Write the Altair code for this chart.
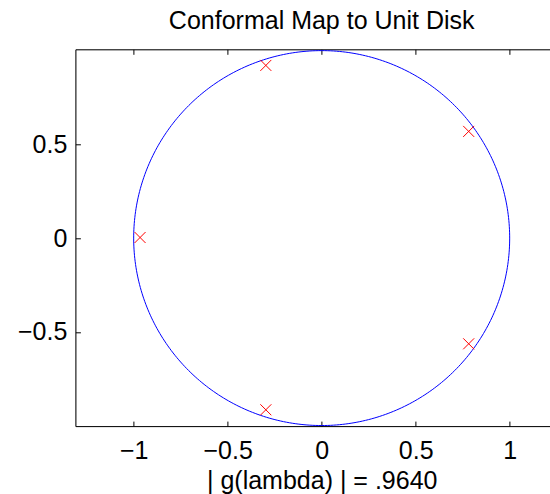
import altair as alt
import numpy as np
import pandas as pd

# ---- data ----
title_text = "Conformal Map to Unit Disk"
xlabel_text = "| g(lambda) | = .9640"
pts_x = [-0.297, 0.782, -0.966, 0.782, -0.297]
pts_y = [0.921, 0.569, 0.003, -0.564, -0.916]
x_ticks = [-1, -0.5, 0, 0.5, 1]
y_ticks = [-0.5, 0, 0.5]
x_domain = [-1.31, 1.2145]
y_domain = [-1.003, 1.007]

# unit circle (the boundary of the unit disk)
t = np.linspace(0, 2 * np.pi, 401)
circle = pd.DataFrame({"i": np.arange(len(t)), "x": np.cos(t), "y": np.sin(t)})
pts = pd.DataFrame({"x": pts_x, "y": pts_y})

FONT = "Liberation Sans"
FS = 25
TICK = 5

W = 474.6
H = 376.8


def xs(axis):
    return alt.X("x:Q", scale=alt.Scale(domain=x_domain, nice=False, zero=False), axis=axis)


def ys(axis):
    return alt.Y("y:Q", scale=alt.Scale(domain=y_domain, nice=False, zero=False), axis=axis)


common = dict(grid=False, domainColor="black", tickColor="black", domainWidth=1, tickWidth=1)

bottom_main = alt.Axis(orient="bottom", values=x_ticks, format="~g", ticks=False, domain=True,
                       labelFont=FONT, labelFontSize=FS, labelColor="black", labelPadding=12,
                       title=xlabel_text, titleFont=FONT, titleFontSize=FS, titleFontWeight="normal",
                       titleColor="black", titleX=246.3, titleY=62, titleAlign="center",
                       titleBaseline="alphabetic", **common)
bottom_ticks = alt.Axis(orient="bottom", values=x_ticks, offset=-TICK, tickSize=TICK, labels=False,
                        domain=False, title=None, **common)
top_line = alt.Axis(orient="top", values=x_ticks, ticks=False, labels=False, domain=True,
                    title=None, **common)
top_ticks = alt.Axis(orient="top", values=x_ticks, offset=-TICK, tickSize=TICK, labels=False,
                     domain=False, title=None, **common)
left_main = alt.Axis(orient="left", values=y_ticks, format="~g", ticks=False, domain=True,
                     labelFont=FONT, labelFontSize=FS, labelColor="black", labelPadding=8.6,
                     title=None, **common)
left_ticks = alt.Axis(orient="left", values=y_ticks, offset=-TICK, tickSize=TICK, labels=False,
                      domain=False, title=None, **common)

circle_layer = alt.Chart(circle).mark_line(color="blue", strokeWidth=1, clip=True).encode(
    x=xs(bottom_main), y=ys(left_main), order="i:Q"
)

marker = "M-1,-1L1,1M-1,1L1,-1"
pts_layer = alt.Chart(pts).mark_point(shape=marker, size=121, filled=False, color="red",
                                      strokeWidth=1, opacity=1).encode(
    x=xs(bottom_ticks), y=ys(left_ticks)
)
top_layer1 = alt.Chart(pts).mark_point(opacity=0).encode(x=xs(top_line), y=ys(None))
top_layer2 = alt.Chart(pts).mark_point(opacity=0).encode(x=xs(top_ticks), y=ys(None))

chart = alt.layer(circle_layer, pts_layer, top_layer1, top_layer2).resolve_scale(
    x="independent", y="independent"
).resolve_axis(
    x="independent", y="independent"
).properties(
    width=W, height=H,
    title=alt.TitleParams(text=title_text, font=FONT, fontSize=FS, fontWeight="normal",
                          color="black", anchor="middle", frame="group", dx=9, dy=25, offset=20,
                          baseline="alphabetic"),
    autosize=alt.AutoSizeParams(type="none"),
    padding={"left": 75.4, "top": 49.3, "right": 0, "bottom": 67.9},
).configure_view(stroke="transparent").configure(background="white")

chart.save("out.html", embed_options={"renderer": "svg", "actions": False})
